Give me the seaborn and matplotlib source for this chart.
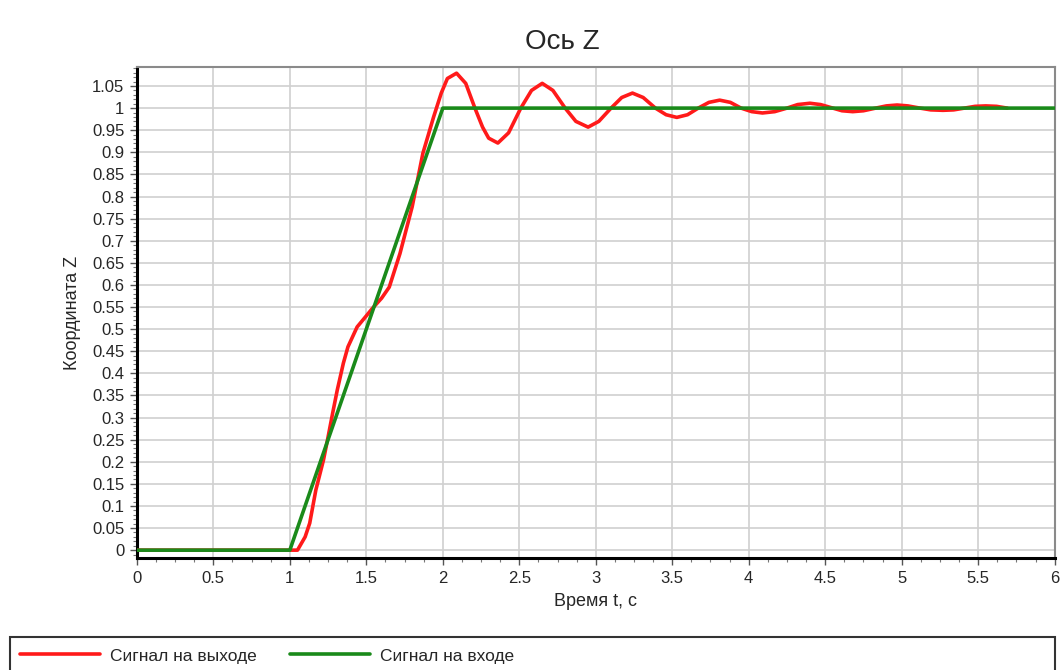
import numpy as np
import pandas as pd
import seaborn as sns
from matplotlib import pyplot as plt
from matplotlib.patches import Rectangle
from matplotlib.ticker import MultipleLocator

sns.set_style("whitegrid")
plt.rcParams['font.family'] = ['Liberation Sans', 'DejaVu Sans']

# output signal
t_out = [0.0, 1.0, 1.05, 1.10, 1.13, 1.17, 1.22, 1.25, 1.28, 1.31, 1.35, 1.38, 1.44,
         1.50, 1.54, 1.60, 1.65, 1.72, 1.80, 1.87, 1.94, 1.99, 2.03, 2.09, 2.15,
         2.21, 2.26, 2.30, 2.36, 2.43, 2.51, 2.58, 2.65, 2.72, 2.80, 2.87, 2.95,
         3.02, 3.10, 3.17, 3.24, 3.31, 3.39, 3.46, 3.53, 3.60, 3.67, 3.74, 3.81,
         3.88, 3.95, 4.02, 4.09, 4.17, 4.25, 4.32, 4.40, 4.47, 4.55, 4.61, 4.68,
         4.75, 4.83, 4.90, 4.97, 5.04, 5.12, 5.19, 5.27, 5.34, 5.41, 5.48, 5.55,
         5.62, 5.69]
z_out = [0.0, 0.0, 0.0, 0.03, 0.061, 0.136, 0.204, 0.256, 0.31, 0.362, 0.423, 0.46, 0.505,
         0.53, 0.547, 0.57, 0.595, 0.671, 0.777, 0.898, 0.980, 1.034, 1.067, 1.079, 1.056,
         1.0, 0.957, 0.932, 0.921, 0.944, 1.0, 1.040, 1.056, 1.040, 1.0, 0.970, 0.957,
         0.970, 1.0, 1.024, 1.034, 1.024, 1.0, 0.985, 0.979, 0.985, 1.0, 1.013, 1.018,
         1.013, 1.0, 0.992, 0.989, 0.992, 1.0, 1.008, 1.011, 1.008, 1.0, 0.994, 0.992,
         0.994, 1.0, 1.005, 1.007, 1.005, 1.0, 0.996, 0.995, 0.996, 1.0, 1.004, 1.005,
         1.004, 1.0]

# input signal
t_in = [0.0, 1.0, 2.0, 6.0]
z_in = [0.0, 0.0, 1.0, 1.0]

x_ticks = [0, 0.5, 1, 1.5, 2, 2.5, 3, 3.5, 4, 4.5, 5, 5.5, 6]
x_labels = ['0', '0.5', '1', '1.5', '2', '2.5', '3', '3.5', '4', '4.5', '5', '5.5', '6']
y_ticks = [0, 0.05, 0.1, 0.15, 0.2, 0.25, 0.3, 0.35, 0.4, 0.45, 0.5, 0.55, 0.6, 0.65,
           0.7, 0.75, 0.8, 0.85, 0.9, 0.95, 1, 1.05]
y_labels = ['0', '0.05', '0.1', '0.15', '0.2', '0.25', '0.3', '0.35', '0.4', '0.45', '0.5',
            '0.55', '0.6', '0.65', '0.7', '0.75', '0.8', '0.85', '0.9', '0.95', '1', '1.05']

df_out = pd.DataFrame({'t': t_out, 'z': z_out})
df_in = pd.DataFrame({'t': t_in, 'z': z_in})

fig = plt.figure(figsize=(10.61, 6.70), dpi=100)
ax = fig.add_axes([0.129, 0.167, 0.865, 0.733])

sns.lineplot(x='t', y='z', data=df_out, ax=ax, color='#ff1a1a', lw=2.6, sort=False,
             label='Сигнал на выходе', zorder=3)
sns.lineplot(x='t', y='z', data=df_in, ax=ax, color='#1a8a1a', lw=2.6, sort=False,
             label='Сигнал на входе', zorder=4)

ax.set_xlim(0, 6)
ax.set_ylim(-0.018, 1.093)
ax.set_xticks(x_ticks)
ax.set_xticklabels(x_labels)
ax.set_yticks(y_ticks)
ax.set_yticklabels(y_labels)
ax.xaxis.set_minor_locator(MultipleLocator(0.125))
ax.yaxis.set_minor_locator(MultipleLocator(0.01))

ax.grid(True, which='major', color='#d0d0d0', lw=1.2)
ax.grid(False, which='minor')
ax.tick_params(axis='both', which='major', length=5, width=1, color='#555555',
               labelsize=12, direction='out', pad=4)
ax.tick_params(axis='both', which='minor', length=3, width=0.8, color='#777777', direction='out')
ax.tick_params(axis='x', which='both', bottom=True)
ax.tick_params(axis='y', which='both', left=True)

for side in ['top', 'right']:
    ax.spines[side].set_color('#8a8a8a')
    ax.spines[side].set_linewidth(1.5)
for side in ['left', 'bottom']:
    ax.spines[side].set_color('black')
    ax.spines[side].set_linewidth(2.2)

fig.text(562 / 1061, 1 - 42 / 670, 'Ось Z', fontsize=20, ha='center', va='center')
ax.set_xlabel('Время t, с', fontsize=13, labelpad=5)
ax.set_ylabel('Координата Z', fontsize=13, labelpad=8)

ax.get_legend().remove()
handles, labels = ax.get_legend_handles_labels()
fig.legend(handles, labels, loc='center left', bbox_to_anchor=(0.004, 0.021), ncol=2,
           frameon=False, fontsize=12.5, handlelength=4.6, handletextpad=0.6, columnspacing=1.9)

fig.patches.append(Rectangle((10 / 1061, -0.05), 1045 / 1061, 0.05 + 1 - 637 / 670,
                             transform=fig.transFigure, fill=False, ec='#333333', lw=1.5))

plt.savefig('out.png', dpi=100)
